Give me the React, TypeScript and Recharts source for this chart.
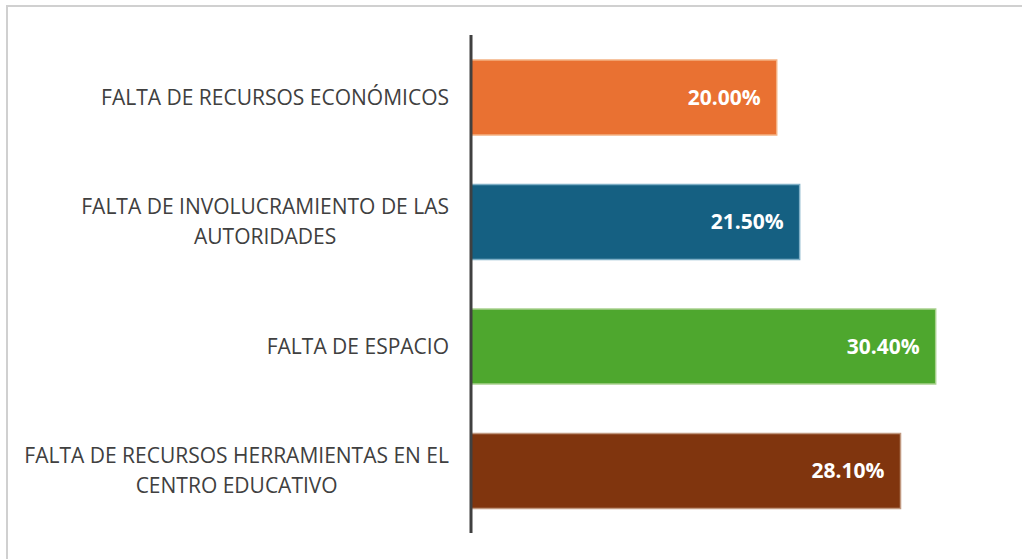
import React from "react";
import { BarChart, Bar, XAxis, YAxis, Cell, LabelList } from "recharts";

const categories = [
  ["FALTA DE RECURSOS ECONÓMICOS"],
  ["FALTA DE INVOLUCRAMIENTO DE LAS", "AUTORIDADES"],
  ["FALTA DE ESPACIO"],
  ["FALTA DE RECURSOS HERRAMIENTAS EN EL", "CENTRO EDUCATIVO"],
];
const values = [20.0, 21.5, 30.4, 28.1];
const fills = ["#E97132", "#156082", "#4EA72E", "#80350E"];
const strokes = ["#F4B183", "#7FAFC6", "#A9D18E", "#C0987F"];

const data = categories.map((lines, i) => ({
  name: lines.join("\n"),
  value: values[i],
}));

const FS = 21;
const LABEL_FONT = `${FS}px 'Open Sans'`;
let canvasCtx: CanvasRenderingContext2D | null = null;
function measure(text: string): number {
  if (!canvasCtx) {
    const c = document.createElement("canvas");
    canvasCtx = c.getContext("2d");
  }
  if (!canvasCtx) return text.length * 11;
  canvasCtx.font = LABEL_FONT;
  return canvasCtx.measureText(text).width;
}

const CategoryTick = (props: any) => {
  const { x, y, payload } = props;
  const lines: string[] = String(payload.value).split("\n");
  const right = x - 14;
  const lineH = 30;
  if (lines.length === 1) {
    return (
      <text x={right} y={y} dy="0.35em" textAnchor="end" fill="#404040" fontSize={FS} fontFamily="'Open Sans'">
        {lines[0]}
      </text>
    );
  }
  const maxW = Math.max(...lines.map(measure));
  const cx = right - maxW / 2;
  const startY = y - ((lines.length - 1) * lineH) / 2;
  return (
    <g>
      {lines.map((l, i) => (
        <text key={i} x={cx} y={startY + i * lineH} dy="0.35em" textAnchor="middle" fill="#404040" fontSize={FS} fontFamily="'Open Sans'">
          {l}
        </text>
      ))}
    </g>
  );
};

const ValueLabel = (props: any) => {
  const { x, y, width, height, value } = props;
  return (
    <text
      x={x + width - 16}
      y={y + height / 2}
      dy="0.35em"
      textAnchor="end"
      fill="#FFFFFF"
      fontSize={21}
      fontWeight="bold"
      fontFamily="'Open Sans'"
    >
      {Number(value).toFixed(2) + "%"}
    </text>
  );
};

export default function App() {
  return (
    <div style={{ position: "absolute", left: 0, top: 0, width: 1022, height: 559, overflow: "hidden", background: "#fff" }}>
      <div
        style={{
          position: "absolute",
          left: 6,
          top: 5,
          width: 1100,
          height: 700,
          border: "2px solid #D0D0D0",
          boxSizing: "border-box",
        }}
      />
      <div style={{ position: "absolute", left: 0, top: 0 }}>
        <BarChart
          width={1022}
          height={559}
          data={data}
          layout="vertical"
          margin={{ top: 35, right: 16, bottom: 26, left: 0 }}
          barCategoryGap="20%"
        >
          <XAxis type="number" domain={[0, 35]} hide />
          <YAxis
            type="category"
            dataKey="name"
            width={471}
            tickLine={false}
            axisLine={{ stroke: "#404040", strokeWidth: 3 }}
            tick={<CategoryTick />}
            interval={0}
          />
          <Bar dataKey="value" isAnimationActive={false} strokeWidth={1.5}>
            {data.map((d, i) => (
              <Cell key={i} fill={fills[i]} stroke={strokes[i]} />
            ))}
            <LabelList dataKey="value" content={<ValueLabel />} />
          </Bar>
        </BarChart>
      </div>
    </div>
  );
}
